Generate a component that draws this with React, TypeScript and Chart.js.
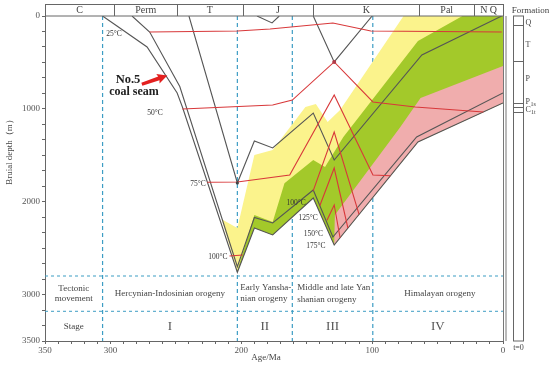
import React, { useEffect, useRef } from 'react';
import { Chart, registerables } from 'chart.js';

Chart.register(...registerables);

// ---------- data (age in Ma, burial depth in m) ----------
const AGE_LABELS = [350, 300, 200, 100, 0];
const AGE_MINOR_STEP = 10;
const DEPTH_LABELS = [0, 1000, 2000, 3000, 3500];
const DEPTH_MINOR_STEP = 1000 / 6;

const PERIOD_BOUNDS = [350, 297, 249, 199, 145, 64, 22, 0];
const PERIOD_NAMES = ['C', 'Perm', 'T', 'J', 'K', 'Pal', 'N Q'];
const STAGE_BOUNDS = [306, 203, 161, 99.5];
const ROW_BOUNDS = [2800, 3180];
const STAGE_NAMES = ['I', 'II', 'III', 'IV'];
const FORMATION_TOPS = [97, 485, 937, 980, 1034];

const BURIAL_C1T = [[306, 0], [295, 108], [272, 334], [249, 829], [245, 980], [203, 2760], [190, 2283], [176, 2358], [145, 1960], [129, 2466], [65, 1357], [0, 937]];
const BURIAL_P1S = [[283.5, 0], [270, 172], [247, 760], [203, 2700], [190, 2170], [176, 2229], [145, 1874], [130, 2380], [66, 1303], [0, 829]];
const BURIAL_T = [[240, 0], [203, 1798], [190, 1346], [176, 1421], [145, 1045], [129, 1551], [62, 420], [1, 0]];
const BURIAL_J = [[188, 0], [176.5, 75], [171, 0]];
const BURIAL_K = [[145, 0], [129, 495], [100, 0]];

const ISO_25 = [[270, 172], [203, 162], [178, 140], [130, 75], [101, 162], [1, 172]];
const ISO_50 = [[245, 1002], [176, 958], [161, 905], [129, 495], [99.4, 926], [67, 980], [15, 1034]];
const ISO_75 = [[226, 1790], [203, 1788], [163, 1712], [129, 851], [99.4, 1712], [86, 1720]];
const ISO_100_EARLY = [[209, 2585], [199, 2574]];
const ISO_100 = [[145, 1880], [129, 1249], [110, 2137]];
const ISO_125 = [[140, 2043], [129, 1637], [118.5, 2284]];
const ISO_150 = [[134.5, 2200], [129, 2035], [124.5, 2388]];

const ZONE_YELLOW = [[215, 2190], [203, 2283], [190, 1497], [176, 1443], [151, 980], [143, 948], [134, 1142], [124.5, 1012], [76, 0], [0, 0], [0, 937], [65, 1357], [129, 2466], [145, 1960], [176, 2358], [190, 2283], [203, 2760]];
const ZONE_GREEN = [[203, 2740], [190, 2143], [176, 2218], [167, 1800], [145, 1551], [136, 1626], [122, 1303], [65, 269], [31, 0], [0, 0], [0, 937], [65, 1357], [129, 2466], [145, 1960], [176, 2358], [190, 2283], [203, 2760]];
const ZONE_PINK = [[128.5, 2143], [79, 1206], [63, 883], [0, 538], [0, 937], [65, 1357], [129, 2466]];

const MARKS_RED = [[129, 495]];
const MARKS_GRAY = [[203, 1798]];

const TEMP_LABELS: [string, number, number][] = [
  ['25°C', 297.3, 194], ['50°C', 266, 1045], ['75°C', 233, 1809], ['100°C', 217.8, 2595],
  ['100°C', 158, 2014], ['125°C', 149, 2175], ['150°C', 145, 2350], ['175°C', 143, 2475],
];

const pts = (a: number[][]) => a.map(([x, y]) => ({ x, y }));

const SERIF = '"Liberation Serif", "DejaVu Serif", serif';
const GRAY = '#555555';
const RED = '#d8383a';
const BLUE = '#3d9dc4';

export default function App() {
  const ref = useRef<HTMLCanvasElement | null>(null);

  useEffect(() => {
    const canvas = ref.current;
    if (!canvas) return;

    const line = (data: number[][], color: string, width: number, order: number, extra: any = {}) => ({
      data: pts(data), borderColor: color, borderWidth: width, pointRadius: 0, fill: false,
      tension: 0, order, ...extra,
    });
    const zone = (data: number[][], color: string, order: number) => ({
      data: pts(data), borderColor: 'transparent', borderWidth: 0, pointRadius: 0,
      backgroundColor: color, fill: 'shape', tension: 0, order,
    });

    const datasets: any[] = [];
    STAGE_BOUNDS.forEach((a) => datasets.push(line([[a, 0], [a, 3500]], BLUE, 1.2, 60, { borderDash: [4, 3] })));
    ROW_BOUNDS.forEach((d) => datasets.push(line([[350, d], [0, d]], BLUE, 1, 60, { borderDash: [3, 3] })));
    datasets.push(zone(ZONE_YELLOW, '#fbf38c', 50));
    datasets.push(zone(ZONE_GREEN, '#a3c92a', 40));
    datasets.push(zone(ZONE_PINK, '#f0adad', 30));
    [BURIAL_C1T, BURIAL_P1S, BURIAL_T, BURIAL_J, BURIAL_K].forEach((b) => datasets.push(line(b, GRAY, 1.1, 20)));
    [ISO_25, ISO_50, ISO_75, ISO_100_EARLY, ISO_100, ISO_125, ISO_150].forEach((t) => datasets.push(line(t, RED, 1.1, 10)));
    datasets.push({ data: pts(MARKS_RED), showLine: false, pointRadius: 2, pointBackgroundColor: '#b23a48', pointBorderWidth: 0, order: 5 });
    datasets.push({ data: pts(MARKS_GRAY), showLine: false, pointRadius: 1.6, pointBackgroundColor: '#444', pointBorderWidth: 0, order: 5 });

    const decor = {
      id: 'decor',
      beforeDraw(chart: any) {
        const c = chart.ctx;
        c.save();
        c.fillStyle = '#fff';
        c.fillRect(0, 0, chart.width, chart.height);
        c.restore();
      },
      afterDraw(chart: any) {
        const c = chart.ctx as CanvasRenderingContext2D;
        const a = chart.chartArea;
        const X = (v: number) => chart.scales.x.getPixelForValue(v);
        const Y = (v: number) => chart.scales.y.getPixelForValue(v);
        const text = (s: string, x: number, y: number, font: string, color = '#444', align: CanvasTextAlign = 'center') => {
          c.font = font; c.fillStyle = color; c.textAlign = align; c.textBaseline = 'middle';
          c.fillText(s, x, y);
        };
        c.save();
        c.strokeStyle = '#666';
        c.lineWidth = 1;
        // geologic period strip
        const st = 4.5;
        c.strokeRect(Math.round(a.left) + 0.5, st, a.right - a.left, a.top - st);
        PERIOD_BOUNDS.slice(1, -1).forEach((b) => {
          const px = Math.round(X(b)) + 0.5;
          c.beginPath(); c.moveTo(px, st); c.lineTo(px, a.top); c.stroke();
        });
        PERIOD_NAMES.forEach((n, i) => {
          const cx = (X(PERIOD_BOUNDS[i]) + X(PERIOD_BOUNDS[i + 1])) / 2;
          text(n, cx, (st + a.top) / 2 + 0.5, `10px ${SERIF}`, '#444');
        });
        // right double frame line
        c.strokeStyle = '#777';
        [a.right + 0.5, a.right + 3].forEach((px) => {
          c.beginPath(); c.moveTo(px, a.top); c.lineTo(px, a.bottom); c.stroke();
        });
        // formation column
        const fx0 = a.right + 10.5, fx1 = a.right + 20.5;
        c.strokeStyle = '#666';
        c.strokeRect(fx0, a.top, fx1 - fx0, a.bottom - a.top);
        FORMATION_TOPS.forEach((d) => {
          const py = Math.round(Y(d)) + 0.5;
          c.beginPath(); c.moveTo(fx0, py); c.lineTo(fx1, py); c.stroke();
        });
        text('Formation', fx0 + 17, 10.5, `9px ${SERIF}`, '#444');
        const fl = fx1 + 2;
        text('Q', fl, Y(70), `8px ${SERIF}`, '#444', 'left');
        text('T', fl, Y(312), `8px ${SERIF}`, '#444', 'left');
        text('P', fl, Y(678), `8px ${SERIF}`, '#444', 'left');
        text('P', fl, Y(930), `8px ${SERIF}`, '#444', 'left');
        text('1s', fl + 5, Y(950), `6px ${SERIF}`, '#444', 'left');
        text('C', fl, Y(1015), `8px ${SERIF}`, '#444', 'left');
        text('1t', fl + 5.5, Y(1035), `6px ${SERIF}`, '#444', 'left');
        text('t=0', (fx0 + fx1) / 2, a.bottom + 7, `8px ${SERIF}`, '#444');
        // axis titles
        text('Age/Ma', 266, 358, `9px ${SERIF}`, '#444');
        c.save();
        c.translate(10, 150);
        c.rotate(-Math.PI / 2);
        text('Bruial depth（m）', 0, 0, `9px ${SERIF}`, '#444');
        c.restore();
        // tectonic rows
        const rowMid = Y((ROW_BOUNDS[0] + ROW_BOUNDS[1]) / 2);
        const stageMid = Y((ROW_BOUNDS[1] + 3500) / 2);
        const f9 = `9px ${SERIF}`;
        const tcol = '#444';
        text('Tectonic', (X(350) + X(STAGE_BOUNDS[0])) / 2, rowMid - 5, f9, tcol);
        text('movement', (X(350) + X(STAGE_BOUNDS[0])) / 2, rowMid + 5, f9, tcol);
        text('Hercynian-Indosinian orogeny', (X(STAGE_BOUNDS[0]) + X(STAGE_BOUNDS[1])) / 2, rowMid, f9, tcol);
        text('Early Yansha-', X(STAGE_BOUNDS[1]) + 3, rowMid - 6, f9, tcol, 'left');
        text('nian orogeny', X(STAGE_BOUNDS[1]) + 3, rowMid + 5, f9, tcol, 'left');
        text('Middle and late Yan', X(STAGE_BOUNDS[2]) + 5, rowMid - 6, f9, tcol, 'left');
        text('shanian orogeny', X(STAGE_BOUNDS[2]) + 5, rowMid + 6, f9, tcol, 'left');
        text('Himalayan orogeny', (X(STAGE_BOUNDS[3]) + X(0)) / 2 + 2, rowMid, f9, tcol);
        text('Stage', (X(350) + X(STAGE_BOUNDS[0])) / 2, stageMid, f9, tcol);
        const sb = [...STAGE_BOUNDS, 0];
        STAGE_NAMES.forEach((n, i) => {
          text(n, (X(sb[i]) + X(sb[i + 1])) / 2, stageMid, `13px ${SERIF}`, '#555');
        });
        // temperature labels
        TEMP_LABELS.forEach(([s, ag, d]) => text(s, X(ag), Y(d), `7.5px ${SERIF}`, '#333'));
        // coal seam annotation
        text('No.5', X(286.6), Y(689), `bold 12.5px ${SERIF}`, '#222');
        text('coal seam', X(282), Y(818), `bold 12px ${SERIF}`, '#222');
        const tx = X(276), ty = Y(735), hx = X(256.5), hy = Y(640);
        const ang = Math.atan2(hy - ty, hx - tx);
        const len = Math.hypot(hx - tx, hy - ty);
        c.save();
        c.translate(tx, ty);
        c.rotate(ang);
        c.fillStyle = '#e3201f';
        c.beginPath();
        c.moveTo(0, -1.6); c.lineTo(len - 9, -2); c.lineTo(len - 10, -5); c.lineTo(len, 0);
        c.lineTo(len - 10, 5); c.lineTo(len - 9, 2); c.lineTo(0, 1.6); c.closePath();
        c.fill();
        c.restore();
        c.restore();
      },
    };

    const chart = new Chart(canvas, {
      type: 'line',
      data: { datasets },
      plugins: [decor],
      options: {
        animation: false,
        responsive: false,
        devicePixelRatio: 1,
        layout: { padding: { top: 16, right: 47, left: 0, bottom: 0 } },
        plugins: { legend: { display: false }, tooltip: { enabled: false }, title: { display: false } },
        scales: {
          x: {
            type: 'linear', min: 0, max: 350, reverse: true, position: 'bottom',
            afterFit: (s: any) => { s.height = 26; },
            afterBuildTicks: (s: any) => {
              const t = [];
              for (let v = 0; v <= 350; v += AGE_MINOR_STEP) t.push({ value: v });
              s.ticks = t;
            },
            ticks: {
              autoSkip: false, maxRotation: 0, padding: 1, color: '#555',
              font: { family: SERIF, size: 9 },
              callback: (v: any) => (AGE_LABELS.includes(Math.round(Number(v))) ? String(Math.round(Number(v))) : ''),
            },
            grid: { drawOnChartArea: false, drawTicks: true, tickLength: 3, color: '#666' },
            border: { display: true, color: '#666', width: 1 },
          },
          y: {
            type: 'linear', min: 0, max: 3500, reverse: true, position: 'left',
            afterFit: (s: any) => { s.width = 45; },
            afterBuildTicks: (s: any) => {
              const t = [];
              for (let i = 0; i <= 21; i++) t.push({ value: i * DEPTH_MINOR_STEP });
              s.ticks = t;
            },
            ticks: {
              autoSkip: false, padding: 2, color: '#555',
              font: { family: SERIF, size: 9 },
              callback: (v: any) => {
                const n = Number(v);
                const hit = DEPTH_LABELS.find((d) => Math.abs(d - n) < 1);
                return hit !== undefined ? String(hit) : '';
              },
            },
            grid: { drawOnChartArea: false, drawTicks: true, tickLength: 3, color: '#666' },
            border: { display: true, color: '#666', width: 1 },
          },
        },
      } as any,
    });
    return () => chart.destroy();
  }, []);

  return (
    <div style={{ position: 'absolute', left: 0, top: 0, width: 550, height: 367, background: '#fff' }}>
      <canvas ref={ref} width={550} height={367} style={{ display: 'block' }} />
    </div>
  );
}
